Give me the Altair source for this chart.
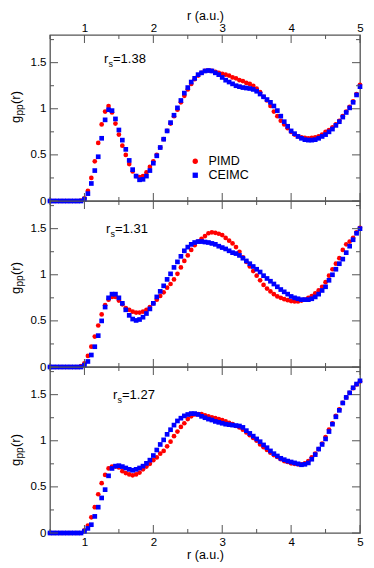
import altair as alt
import pandas as pd

# ---------------- data ----------------
r = [round(0.5 + 0.05 * i, 2) for i in range(91)]

pimd_138 = [0, 0, 0, 0, 0, 0, 0, 0, 0, 0.005,
            0.03, 0.11, 0.25, 0.43, 0.63, 0.83, 0.97, 1.03, 0.96, 0.84,
            0.72, 0.60, 0.50, 0.40, 0.32, 0.27, 0.26, 0.27, 0.31, 0.37,
            0.43, 0.50, 0.58, 0.67, 0.76, 0.84, 0.92, 0.99, 1.07, 1.14,
            1.21, 1.27, 1.32, 1.36, 1.39, 1.41, 1.415, 1.41, 1.40, 1.39,
            1.38, 1.37, 1.36, 1.34, 1.33, 1.31, 1.30, 1.28, 1.27, 1.25,
            1.22, 1.18, 1.13, 1.09, 1.03, 0.97, 0.92, 0.87, 0.83, 0.79,
            0.75, 0.72, 0.70, 0.69, 0.685, 0.68, 0.685, 0.69, 0.70, 0.72,
            0.75, 0.77, 0.80, 0.83, 0.87, 0.92, 0.97, 1.02, 1.08, 1.16,
            1.26]
ceimc_138 = [0, 0, 0, 0, 0, 0, 0, 0, 0, 0,
             0.02, 0.08, 0.19, 0.33, 0.48, 0.68, 0.88, 0.99, 0.98, 0.89,
             0.77, 0.66, 0.56, 0.44, 0.34, 0.27, 0.23, 0.235, 0.27, 0.33,
             0.41, 0.49, 0.58, 0.67, 0.76, 0.85, 0.93, 1.01, 1.09, 1.17,
             1.23, 1.29, 1.33, 1.37, 1.39, 1.41, 1.415, 1.41, 1.39, 1.37,
             1.34, 1.31, 1.29, 1.27, 1.25, 1.24, 1.23, 1.225, 1.22, 1.21,
             1.19, 1.16, 1.13, 1.10, 1.07, 1.03, 0.98, 0.92, 0.86, 0.81,
             0.76, 0.73, 0.70, 0.68, 0.665, 0.66, 0.66, 0.665, 0.68, 0.70,
             0.72, 0.75, 0.78, 0.82, 0.86, 0.91, 0.96, 1.01, 1.07, 1.15,
             1.24]
pimd_131 = [0, 0, 0, 0, 0, 0, 0, 0, 0, 0.01,
            0.04, 0.12, 0.22, 0.33, 0.45, 0.57, 0.67, 0.73, 0.76, 0.76,
            0.72, 0.68, 0.64, 0.62, 0.60, 0.59, 0.59, 0.60, 0.62, 0.65,
            0.69, 0.73, 0.77, 0.81, 0.86, 0.90, 0.95, 1.01, 1.08, 1.15,
            1.21, 1.27, 1.32, 1.36, 1.39, 1.42, 1.45, 1.46, 1.455, 1.445,
            1.43, 1.40, 1.37, 1.34, 1.30, 1.25, 1.19, 1.14, 1.09, 1.04,
            0.99, 0.94, 0.89, 0.85, 0.82, 0.79, 0.765, 0.75, 0.735, 0.725,
            0.715, 0.71, 0.71, 0.72, 0.73, 0.75, 0.77, 0.80, 0.83, 0.87,
            0.92, 0.99, 1.06, 1.12, 1.18, 1.27, 1.33, 1.36, 1.40, 1.46,
            1.51]
ceimc_131 = [0, 0, 0, 0, 0, 0, 0, 0, 0, 0,
             0.02, 0.06, 0.13, 0.22, 0.34, 0.50, 0.65, 0.75, 0.79, 0.79,
             0.75, 0.69, 0.62, 0.56, 0.52, 0.505, 0.515, 0.54, 0.58, 0.63,
             0.69, 0.76, 0.82, 0.88, 0.95, 1.01, 1.08, 1.14, 1.20, 1.26,
             1.30, 1.33, 1.35, 1.36, 1.36, 1.355, 1.35, 1.34, 1.33, 1.31,
             1.295, 1.28, 1.26, 1.24, 1.23, 1.21, 1.18, 1.15, 1.12, 1.09,
             1.06, 1.03, 0.99, 0.96, 0.93, 0.90, 0.87, 0.84, 0.815, 0.79,
             0.765, 0.75, 0.74, 0.73, 0.73, 0.73, 0.74, 0.76, 0.79, 0.83,
             0.87, 0.94, 1.00, 1.06, 1.12, 1.17, 1.24, 1.31, 1.38, 1.45,
             1.50]
pimd_127 = [0, 0, 0, 0, 0, 0, 0, 0, 0, 0,
            0.03, 0.08, 0.17, 0.28, 0.42, 0.54, 0.63, 0.70, 0.72, 0.72,
            0.71, 0.67, 0.65, 0.635, 0.625, 0.635, 0.655, 0.69, 0.72, 0.75,
            0.79, 0.82, 0.86, 0.89, 0.94, 0.99, 1.05, 1.10, 1.15, 1.19,
            1.235, 1.265, 1.285, 1.29, 1.29, 1.275, 1.265, 1.255, 1.245, 1.235,
            1.225, 1.21, 1.195, 1.18, 1.16, 1.145, 1.12, 1.09, 1.06, 1.03,
            1.00, 0.96, 0.93, 0.90, 0.87, 0.845, 0.825, 0.80, 0.78, 0.77,
            0.755, 0.75, 0.745, 0.745, 0.755, 0.78, 0.82, 0.86, 0.91, 0.97,
            1.04, 1.12, 1.19, 1.27, 1.34, 1.41, 1.47, 1.52, 1.57, 1.61,
            1.645]
ceimc_127 = [0, 0, 0, 0, 0, 0, 0, 0, 0, 0,
             0.02, 0.05, 0.09, 0.18, 0.28, 0.38, 0.47, 0.62, 0.70, 0.725,
             0.73, 0.72, 0.705, 0.69, 0.68, 0.69, 0.705, 0.725, 0.755, 0.79,
             0.84, 0.90, 0.96, 1.01, 1.07, 1.12, 1.17, 1.215, 1.245, 1.27,
             1.285, 1.295, 1.295, 1.285, 1.265, 1.25, 1.235, 1.225, 1.21, 1.20,
             1.19, 1.18, 1.175, 1.17, 1.165, 1.16, 1.145, 1.11, 1.08, 1.05,
             1.02, 0.99, 0.955, 0.925, 0.89, 0.86, 0.835, 0.81, 0.795, 0.78,
             0.77, 0.76, 0.75, 0.74, 0.745, 0.76, 0.80, 0.85, 0.91, 0.96,
             1.02, 1.10, 1.18, 1.26, 1.33, 1.41, 1.47, 1.52, 1.575, 1.615,
             1.65]

series_names = ["PIMD", "CEIMC"]
series_colors = ["#ff0000", "#0000ff"]
series_shapes = ["circle", "square"]
rs_values = ["=1.38", "=1.31", "=1.27"]
x_major = [1, 2, 3, 4, 5]
x_minor = [0.5, 1.5, 2.5, 3.5, 4.5]
y_major = [0, 0.5, 1, 1.5]
y_minor = [0.25, 0.75, 1.25, 1.75]

for s in (pimd_138, ceimc_138, pimd_131, ceimc_131, pimd_127, ceimc_127):
    assert len(s) == len(r)

# ---------------- style ----------------
W, H = 310, 166
FONT = "Liberation Sans"
FRAME = "#555555"
MAJ, MIN = 8, 4
rs_pos = [(54, 24), (56, 28), (63, 28)]      # label anchor (x, y-center) per panel
ytitle_c = [72, 77, 83]                       # y-title centre per panel
YT_X = -30.5                                  # y-title baseline offset


def x_enc(axis):
    return alt.X("r:Q", scale=alt.Scale(domain=[0.5, 5], nice=False, zero=False), axis=axis)


def y_enc():
    return alt.Y("g:Q", scale=alt.Scale(domain=[0, 1.8], nice=False, zero=False),
                 axis=alt.Axis(values=y_major, format="~g", title=None, ticks=False,
                               domain=False, grid=False, labelPadding=4))


def panel(idx, pimd, ceimc, xaxis, show_legend):
    if show_legend:
        leg = alt.Legend(orient="none", legendX=139, legendY=120, title=None,
                         labelFontSize=12.5, labelFont=FONT, symbolSize=28,
                         labelOffset=7, rowPadding=1, padding=0,
                         symbolStrokeWidth=0)
    else:
        leg = None
    col = lambda: alt.Color("series:N", scale=alt.Scale(domain=series_names, range=series_colors), legend=leg)
    shp = lambda: alt.Shape("series:N", scale=alt.Scale(domain=series_names, range=series_shapes), legend=leg)

    layers = []
    for name, vals in (("PIMD", pimd), ("CEIMC", ceimc)):
        df = pd.DataFrame({"r": r, "g": vals, "series": name})
        layers.append(alt.Chart(df).mark_point(filled=True, size=22, opacity=1).encode(
            x=x_enc(xaxis), y=y_enc(), color=col(), shape=shp()))

    # inward ticks on all four sides
    for vals, ln in ((x_major, MAJ), (x_minor, MIN)):
        tdf = pd.DataFrame({"r": vals})
        layers.append(alt.Chart(tdf).mark_rule(color=FRAME, strokeWidth=1).encode(
            x=x_enc(xaxis), y=alt.value(0), y2=alt.value(ln)))
        layers.append(alt.Chart(tdf).mark_rule(color=FRAME, strokeWidth=1).encode(
            x=x_enc(xaxis), y=alt.value(H), y2=alt.value(H - ln)))
    for vals, ln in ((y_major, MAJ), (y_minor, MIN)):
        tdf = pd.DataFrame({"g": vals})
        layers.append(alt.Chart(tdf).mark_rule(color=FRAME, strokeWidth=1).encode(
            y=y_enc(), x=alt.value(0), x2=alt.value(ln)))
        layers.append(alt.Chart(tdf).mark_rule(color=FRAME, strokeWidth=1).encode(
            y=y_enc(), x=alt.value(W), x2=alt.value(W - ln)))

    # r_s label
    rx, ry = rs_pos[idx]
    def txt(t, x, y, size, **kw):
        return alt.Chart(pd.DataFrame({"t": [t]})).mark_text(
            font=FONT, fontSize=size, color="black", align="left", baseline="middle", **kw
        ).encode(text="t:N", x=alt.value(x), y=alt.value(y))
    layers.append(txt("r", rx, ry, 13))
    layers.append(txt("s", rx + 4.5, ry + 5, 9))
    layers.append(txt(rs_values[idx], rx + 9, ry, 13))

    # y-axis title g_pp(r), rotated
    c = ytitle_c[idx]
    def vtxt(t, x, y, size):
        return alt.Chart(pd.DataFrame({"t": [t]})).mark_text(
            font=FONT, fontSize=size, color="black", align="left", baseline="alphabetic", angle=270
        ).encode(text="t:N", x=alt.value(x), y=alt.value(y))
    layers.append(vtxt("g", YT_X, c + 16, 13))
    layers.append(vtxt("pp", YT_X + 3.5, c + 8.5, 10))
    layers.append(vtxt("(r)", YT_X, c - 3, 13))

    return alt.layer(*layers).properties(width=W, height=H)


top_axis = alt.Axis(orient="top", values=x_major, format="~g", title="r (a.u.)", ticks=False,
                    domain=False, grid=False, labelPadding=2, titlePadding=0, labelFlush=False)
bot_axis = alt.Axis(orient="bottom", values=x_major, format="~g", title="r (a.u.)", ticks=False,
                    domain=False, grid=False, labelPadding=3, titlePadding=1, labelFlush=False)

p1 = panel(0, pimd_138, ceimc_138, top_axis, True)
p2 = panel(1, pimd_131, ceimc_131, None, False)
p3 = panel(2, pimd_127, ceimc_127, bot_axis, False)

chart = alt.vconcat(p1, p2, p3, spacing=0, bounds="flush").resolve_scale(
    color="independent", shape="independent"
).resolve_legend(
    color="independent", shape="independent"
).properties(padding=0).configure_view(
    stroke=FRAME, strokeWidth=1.3
).configure_axis(
    labelFont=FONT, labelFontSize=11.5, labelColor="black",
    titleFont=FONT, titleFontSize=12.5, titleFontWeight="normal", titleColor="black"
)

chart.save("out.html", embed_options={"renderer": "svg", "actions": False})
